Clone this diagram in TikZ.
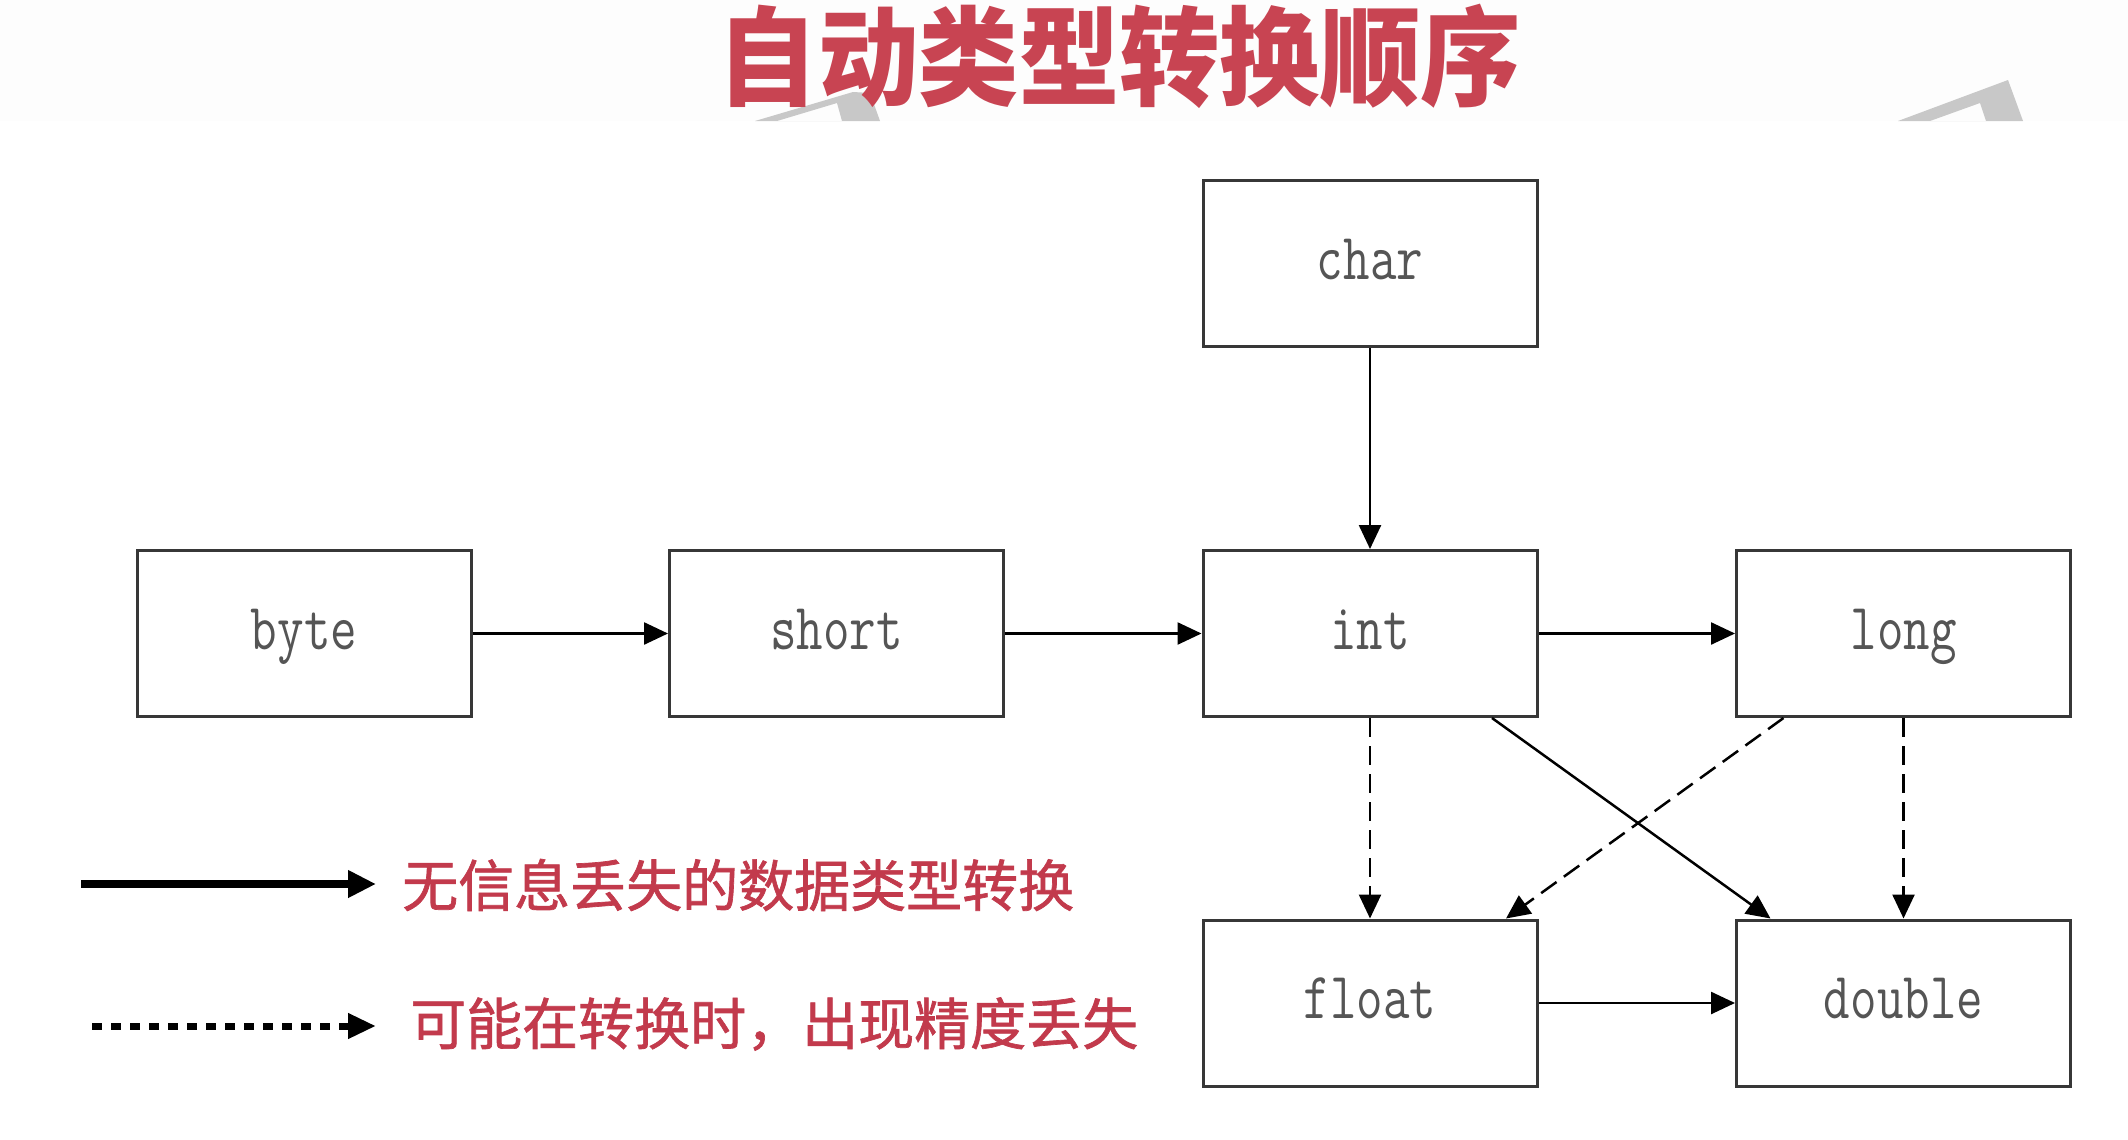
\documentclass[tikz,border=0pt]{standalone}
\usepackage{fontspec}
\usepackage{graphicx}
\usetikzlibrary{arrows.meta,calc}
\newfontfamily\cjk{Noto Sans CJK SC}
\newfontfamily\cjkmed{Noto Sans CJK SC}[FakeBold=1.2]
\definecolor{titlered}{RGB}{200,68,82}
\definecolor{legendred}{RGB}{194,58,76}
\definecolor{boxgray}{RGB}{55,55,55}
\definecolor{labelgray}{RGB}{85,85,85}
\definecolor{wmgray}{RGB}{200,200,200}
\definecolor{bandgray}{RGB}{253,253,253}
\newcommand\typelabelfont{\ttfamily\fontsize{66}{70}\selectfont}
\newcommand\typelbl[1]{\scalebox{0.78}[1]{#1}}
\begin{document}
\begin{tikzpicture}[x=1pt,y=-1pt,
  typebox/.style={draw=boxgray,line width=3pt,minimum width=334pt,minimum height=166pt,
    inner sep=0pt,text height=31pt,text depth=0pt,font=\typelabelfont,text=labelgray},
  conn/.style={line width=2.5pt,-{Triangle[length=24pt,width=22pt]}},
  dconn/.style={conn,dash pattern=on 19pt off 9pt},
  legendtext/.style={font=\cjkmed\fontsize{56}{60}\selectfont,text=legendred,inner sep=0pt,anchor=west},
]
\useasboundingbox (0,0) rectangle (2128,1140);
\fill[white] (0,0) rectangle (2128,1140);
\fill[bandgray] (0,0) rectangle (2128,121);
% watermark fragments
\fill[wmgray,even odd rule] (755,121) -- (853,92) -- (870,93) -- (880,121) -- cycle
  (777,121) -- (837,103) -- (842,121) -- cycle;
\fill[wmgray,even odd rule] (1898,121) -- (2008,80) -- (2023,121) -- cycle
  (1930,121) -- (1980,103) -- (1986,121) -- cycle;
% title
\node[font=\cjk\bfseries\fontsize{108}{110}\selectfont,text=titlered,inner sep=0pt] (title)
  at (1119.5,56.5) {\scalebox{0.93}[1]{自动类型转换顺序}};
% type boxes
\node[typebox] (byte)   at (304,633.5)    {\typelbl{byte}};
\node[typebox] (short)  at (836.5,633.5)  {\typelbl{short}};
\node[typebox] (int)    at (1370,633.5)   {\typelbl{int}};
\node[typebox] (long)   at (1903.5,633.5) {\typelbl{long}};
\node[typebox] (char)   at (1370,263.5)   {\typelbl{char}};
\node[typebox] (float)  at (1370,1003)    {\typelbl{float}};
\node[typebox] (double) at (1903.5,1003)  {\typelbl{double}};
% connectors
\draw[conn] (byte) -- (short);
\draw[conn] (short) -- (int);
\draw[conn] (int) -- (long);
\draw[conn] (char) -- (int);
\draw[conn] (float) -- (double);
\draw[dconn] (int) -- (float);
\draw[dconn] (long) -- (double);
\draw[conn] ([xshift=122pt]int.south) -- ([xshift=-133pt]double.north);
\draw[dconn] ([xshift=-120pt]long.south) -- ([xshift=136pt]float.north);
% legend
\coordinate (l1s) at (81,884);
\coordinate (l1e) at (376,884);
\coordinate (l2s) at (92,1026);
\coordinate (l2e) at (376,1026);
\draw[line width=8pt,-{Triangle[length=28pt,width=26pt]}] (l1s) -- (l1e);
\draw[line width=7pt,dash pattern=on 10pt off 9pt,-{Triangle[length=28pt,width=24pt]}] (l2s) -- (l2e);
\node[legendtext] (t1) at (402,885) {无信息丢失的数据类型转换};
\node[legendtext] (t2) at (410,1024) {可能在转换时，出现精度丢失};
\end{tikzpicture}
\end{document}
